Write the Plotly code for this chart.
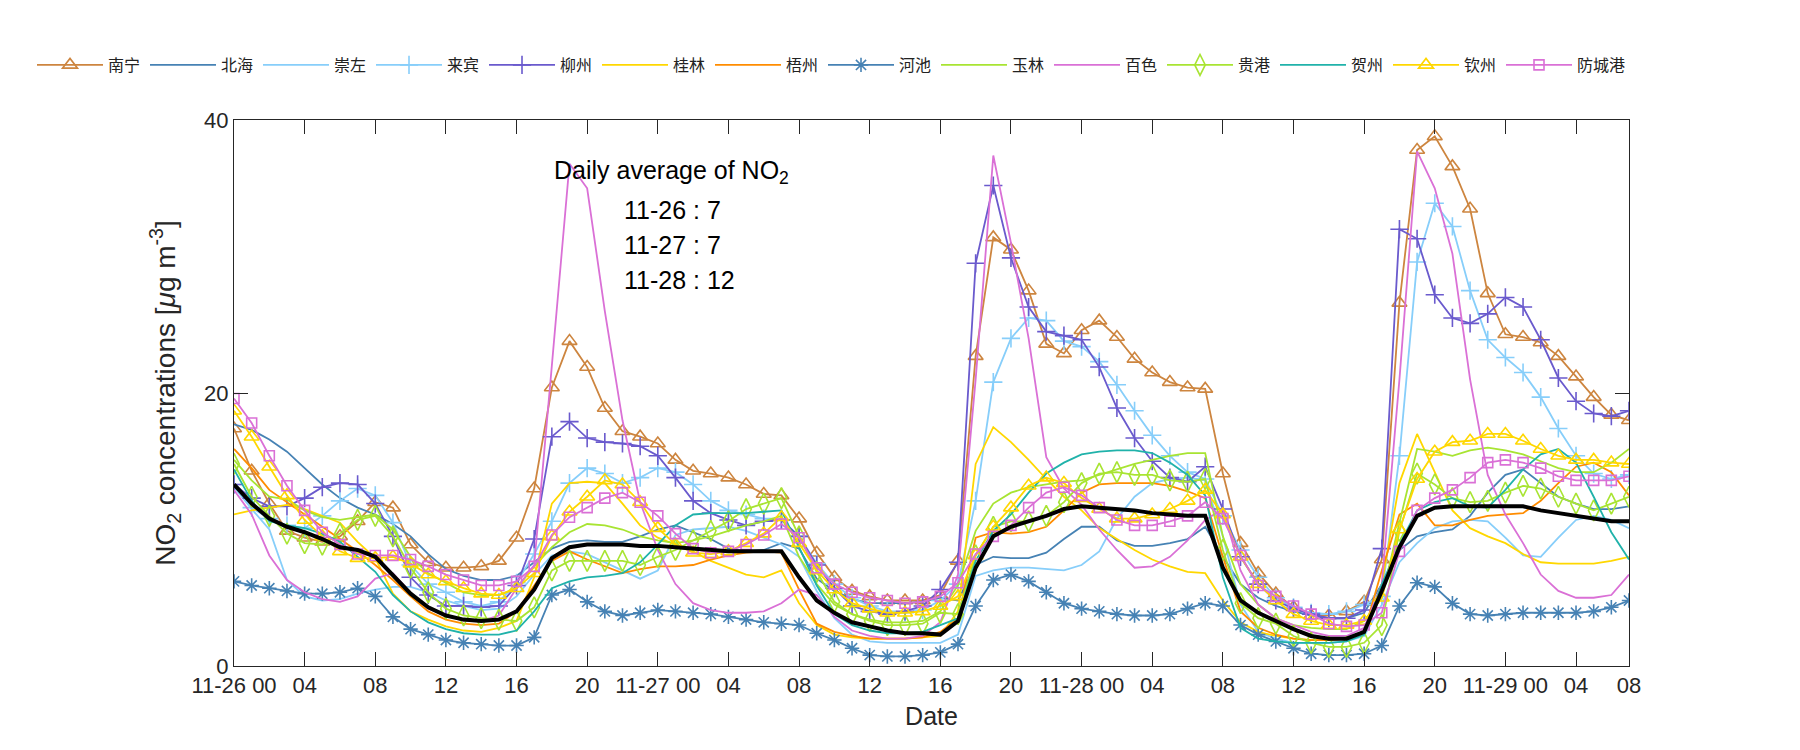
import plotly.graph_objects as go

hours = list(range(80))

tick_vals = [0, 4, 8, 12, 16, 20, 24, 28, 32, 36, 40, 44, 48, 52, 56, 60, 64, 68, 72, 76, 79]
tick_text = ["11-26 00", "04", "08", "12", "16", "20", "11-27 00", "04", "08", "12", "16",
             "20", "11-28 00", "04", "08", "12", "16", "20", "11-29 00", "04", "08"]

nanning = [17.4, 14.3, 11.9, 9.9, 9.4, 9.1, 9.5, 10.6, 12.0, 11.6,
           8.9, 7.6, 7.2, 7.2, 7.3, 7.7, 9.4, 13.0, 20.4, 23.8,
           21.9, 18.9, 17.2, 16.8, 16.3, 15.1, 14.3, 14.1, 13.8, 13.3,
           12.6, 12.5, 10.8, 8.3, 6.5, 5.5, 5.1, 4.8, 4.8, 4.8,
           5.2, 7.7, 22.7, 31.4, 30.5, 27.5, 23.6, 22.9, 24.6, 25.3,
           24.1, 22.5, 21.5, 20.8, 20.4, 20.3, 14.1, 9.0, 6.8, 5.3,
           4.3, 3.7, 3.7, 4.0, 4.7, 7.8, 26.6, 37.8, 38.8, 36.6,
           33.5, 27.3, 24.3, 24.1, 23.7, 22.7, 21.2, 19.7, 18.4, 18.0]

beihai = [17.7, 17.3, 16.6, 15.7, 14.5, 13.3, 12.3, 11.6, 11.1, 10.4,
          9.5, 8.2, 7.1, 6.6, 6.3, 6.3, 6.6, 7.6, 8.6, 9.1,
          9.2, 9.1, 9.1, 9.5, 10.0, 10.3, 9.8, 9.3, 8.6, 8.4,
          8.5, 9.0, 8.6, 6.4, 5.5, 4.9, 4.6, 4.6, 4.6, 4.7,
          5.0, 4.8, 7.4, 8.0, 7.9, 7.9, 8.3, 9.3, 10.2, 10.2,
          9.2, 8.8, 8.8, 9.0, 9.3, 10.2, 8.0, 6.0, 5.0, 4.4,
          4.0, 3.7, 3.5, 3.5, 3.9, 6.0, 8.5, 9.5, 9.8, 10.0,
          11.0, 12.7, 14.0, 14.4, 13.4, 12.4, 11.9, 11.5, 11.5, 11.7]

chongzuo = [13.1, 11.5, 10.0, 6.3, 5.1, 4.8, 4.9, 5.3, 5.6, 5.8,
            5.8, 5.4, 4.8, 4.4, 4.1, 4.2, 5.1, 6.7, 8.1, 8.4,
            8.2, 7.6, 7.0, 6.4, 7.0, 9.6, 10.0, 10.1, 10.2, 9.9,
            9.4, 8.9, 8.0, 5.5, 3.5, 2.3, 1.8, 1.7, 1.7, 1.7,
            1.7, 2.3, 6.6, 7.0, 7.2, 7.2, 7.1, 7.0, 7.4, 8.4,
            10.8, 12.4, 13.4, 13.7, 13.8, 13.6, 9.5, 4.5, 2.5, 2.0,
            1.7, 1.7, 1.7, 1.8, 2.2, 4.5, 7.6, 9.0, 10.1, 10.6,
            10.7, 10.6, 9.4, 8.1, 8.0, 9.4, 10.7, 11.0, 10.7, 10.1]

laibin = [13.3, 11.6, 10.8, 10.3, 10.1, 11.0, 12.1, 13.0, 12.5, 10.5,
          7.4, 6.0, 5.4, 4.7, 4.4, 4.7, 6.1, 8.2, 10.6, 13.4,
          14.5, 14.1, 13.4, 13.8, 14.5, 14.2, 13.3, 12.1, 11.4, 11.1,
          10.8, 10.7, 9.5, 7.5, 6.0, 5.0, 4.4, 4.0, 3.9, 4.1,
          4.8, 6.0, 12.1, 20.8, 24.0, 25.5, 25.3, 23.8, 23.4, 22.3,
          20.6, 18.7, 16.9, 15.4, 14.2, 13.7, 11.0, 8.5, 6.5, 5.0,
          4.3, 3.9, 3.8, 4.0, 4.5, 5.1, 15.4, 29.6, 33.9, 32.2,
          27.5, 23.9, 22.6, 21.5, 19.7, 17.4, 15.4, 14.1, 13.7, 14.0]

liuzhou = [13.3, 12.3, 11.7, 11.7, 12.3, 13.1, 13.4, 13.3, 11.9, 9.5,
           6.5, 5.2, 4.4, 4.4, 4.3, 4.4, 5.9, 9.3, 16.8, 17.9,
           16.7, 16.4, 16.3, 16.1, 15.4, 13.8, 12.1, 11.2, 10.7, 10.3,
           10.6, 10.7, 9.5, 7.4, 5.7, 4.4, 4.0, 3.8, 4.0, 4.4,
           5.6, 7.6, 29.5, 35.2, 29.9, 26.3, 24.5, 24.2, 23.9, 21.9,
           18.9, 16.7, 15.0, 13.8, 13.5, 14.6, 11.5, 8.0, 6.0, 4.8,
           4.2, 3.8, 3.5, 3.5, 4.1, 8.6, 32.0, 31.3, 27.2, 25.5,
           25.1, 25.8, 27.0, 26.3, 23.9, 21.1, 19.4, 18.5, 18.3, 18.7]

guilin = [11.1, 11.4, 11.6, 11.8, 11.5, 11.0, 10.5, 9.1, 7.9, 5.3,
          4.0, 3.4, 2.9, 2.6, 2.5, 2.8, 3.3, 6.5, 11.9, 13.4,
          13.5, 13.4, 11.9, 10.3, 9.4, 8.9, 8.4, 7.7, 7.2, 6.7,
          6.5, 7.0, 4.6, 3.0, 2.3, 2.1, 2.0, 2.0, 2.0, 2.1,
          2.2, 4.0, 14.8, 17.5, 16.4, 15.1, 13.7, 12.4, 11.4, 10.1,
          9.3, 8.5, 7.8, 7.3, 6.9, 6.8, 4.8, 3.2, 2.5, 2.2,
          2.0, 1.9, 1.9, 2.0, 2.5, 6.0, 13.4, 17.0, 14.2, 11.4,
          10.1, 9.5, 9.0, 8.2, 7.6, 7.5, 7.5, 7.5, 7.7, 8.0]

wuzhou = [15.9, 14.5, 12.9, 12.0, 11.1, 10.2, 9.3, 8.4, 7.4, 6.3,
          5.1, 4.0, 3.4, 3.1, 3.0, 3.1, 4.0, 5.9, 7.7, 8.4,
          7.8, 7.3, 6.8, 7.1, 7.3, 7.3, 7.4, 7.8, 8.1, 8.3,
          8.4, 8.3, 5.6, 3.1, 2.5, 2.2, 2.0, 2.0, 2.0, 2.1,
          2.5, 3.5, 9.4, 9.8, 9.7, 9.8, 10.2, 11.4, 12.7, 13.3,
          13.4, 13.4, 13.4, 13.2, 12.8, 12.3, 8.0, 4.0, 2.8, 2.3,
          2.0, 1.9, 1.9, 2.0, 2.5, 7.0, 11.1, 11.9, 10.3, 10.3,
          10.7, 11.0, 11.1, 11.2, 12.1, 13.4, 14.6, 14.9, 14.2, 12.5]

hechi = [6.2, 5.9, 5.7, 5.5, 5.3, 5.3, 5.4, 5.7, 5.1, 3.6,
         2.7, 2.3, 1.9, 1.7, 1.6, 1.5, 1.5, 2.1, 5.2, 5.6,
         4.7, 4.0, 3.7, 3.9, 4.1, 4.0, 3.9, 3.8, 3.6, 3.4,
         3.2, 3.1, 3.0, 2.4, 1.9, 1.3, 0.8, 0.7, 0.7, 0.8,
         1.0, 1.6, 4.4, 6.3, 6.7, 6.2, 5.4, 4.6, 4.2, 4.0,
         3.8, 3.7, 3.7, 3.8, 4.2, 4.6, 4.4, 3.0, 2.3, 1.8,
         1.3, 0.9, 0.8, 0.8, 0.9, 1.5, 4.4, 6.1, 5.8, 4.6,
         3.8, 3.7, 3.8, 3.9, 3.9, 3.9, 3.9, 4.0, 4.3, 4.8]

yulin = [15.1, 13.6, 12.4, 12.2, 11.4, 10.9, 10.7, 10.9, 11.1, 10.0,
         8.0, 6.8, 6.1, 5.4, 5.2, 5.2, 5.7, 7.3, 8.7, 9.8,
         10.4, 10.3, 10.0, 9.5, 9.2, 9.0, 9.2, 9.5, 9.9, 10.3,
         10.6, 11.0, 8.0, 6.0, 4.5, 3.8, 3.4, 3.2, 3.2, 3.3,
         4.0, 5.9, 9.9, 11.9, 12.7, 13.1, 13.3, 13.5, 13.6, 14.0,
         14.4, 14.8, 15.1, 15.4, 15.6, 15.6, 9.5, 6.0, 4.5, 3.5,
         3.0, 2.8, 2.7, 2.7, 3.3, 5.0, 10.5, 15.9, 15.7, 15.4,
         15.8, 16.0, 15.8, 15.5, 15.0, 14.5, 14.2, 14.2, 14.9, 15.9]

baise = [12.9, 11.1, 8.1, 6.3, 5.4, 4.9, 4.7, 5.1, 6.4, 6.8,
         5.4, 4.2, 3.7, 3.3, 3.3, 3.7, 5.7, 7.4, 22.0, 36.8,
         35.0, 26.0, 18.0, 12.0, 8.5, 6.0, 4.6, 4.1, 3.9, 3.9,
         4.0, 4.6, 5.6, 5.2, 3.6, 2.6, 2.2, 2.0, 2.0, 2.2,
         3.2, 6.7, 21.0, 37.4, 31.0, 24.0, 15.3, 13.0, 11.8, 10.0,
         8.5, 7.2, 7.3, 8.0, 9.2, 10.7, 11.5, 7.0, 4.5, 3.5,
         3.0, 2.5, 2.2, 2.2, 2.8, 6.0, 21.0, 37.7, 35.0, 30.2,
         21.0, 14.0, 11.1, 9.0, 6.7, 5.5, 5.0, 5.0, 5.2, 6.7]

guigang = [14.8, 12.4, 11.0, 9.7, 9.0, 8.9, 9.7, 10.7, 11.0, 9.5,
           7.2, 5.4, 4.2, 3.7, 3.5, 3.4, 3.3, 4.3, 7.0, 7.7,
           7.7, 7.7, 7.7, 7.4, 8.0, 8.5, 9.2, 9.9, 10.6, 11.5,
           11.9, 12.3, 9.5, 6.9, 4.7, 3.8, 3.3, 3.0, 3.0, 3.1,
           3.9, 3.8, 8.1, 10.2, 10.6, 10.6, 11.0, 12.0, 13.4, 14.1,
           14.2, 14.0, 14.0, 13.6, 13.5, 13.7, 8.5, 4.6, 3.5, 3.1,
           2.2, 1.7, 1.4, 1.4, 1.7, 3.0, 9.9, 14.1, 13.3, 12.3,
           12.0, 12.1, 12.7, 13.2, 13.0, 12.4, 11.9, 11.4, 11.9, 12.4]

hezhou = [14.4, 12.1, 10.6, 10.3, 10.1, 9.7, 9.1, 8.0, 6.9, 5.2,
          4.0, 3.2, 2.7, 2.4, 2.3, 2.3, 2.6, 4.0, 5.7, 6.2,
          6.5, 6.6, 6.8, 7.6, 8.9, 10.3, 11.1, 11.2, 11.2, 11.2,
          11.3, 11.4, 8.7, 5.9, 3.8, 3.0, 2.6, 2.4, 2.4, 2.5,
          3.0, 3.5, 7.7, 9.9, 11.1, 12.7, 14.1, 14.9, 15.5, 15.7,
          15.8, 15.8, 15.6, 14.9, 14.0, 12.5, 6.5, 2.8, 2.0, 1.8,
          1.7, 1.7, 1.7, 1.8, 2.3, 6.0, 8.9, 11.4, 12.0, 12.3,
          11.7, 11.6, 12.9, 14.4, 15.5, 15.9, 14.9, 12.4, 9.8, 7.8]

qinzhou = [18.7, 16.8, 14.6, 12.5, 10.7, 9.5, 8.4, 7.9, 7.9, 8.0,
           7.5, 6.7, 6.2, 5.7, 5.3, 5.2, 5.7, 6.8, 9.5, 11.3,
           12.4, 13.6, 13.3, 12.0, 10.1, 8.9, 8.3, 8.2, 8.4, 9.0,
           9.7, 10.9, 9.0, 7.0, 5.6, 4.6, 4.2, 3.9, 3.9, 4.0,
           4.4, 5.1, 8.1, 10.2, 11.6, 13.2, 13.8, 13.4, 12.3, 11.5,
           10.8, 10.8, 11.1, 11.5, 12.1, 12.9, 11.1, 8.0, 6.0, 4.8,
           3.8, 3.3, 3.0, 3.0, 3.3, 5.0, 10.0, 13.7, 15.7, 16.4,
           16.5, 17.0, 17.0, 16.5, 15.9, 15.4, 15.1, 15.1, 14.9, 14.8]

fangchenggang = [19.6, 17.8, 15.4, 13.2, 11.4, 9.8, 8.9, 8.2, 8.1, 8.1,
                 7.8, 7.3, 6.7, 6.3, 5.9, 5.9, 6.2, 7.3, 9.6, 10.9,
                 11.6, 12.3, 12.7, 12.0, 11.0, 9.7, 8.6, 8.3, 8.4, 8.9,
                 9.6, 10.4, 9.4, 7.2, 6.0, 5.4, 5.0, 4.8, 4.6, 4.7,
                 5.1, 6.1, 8.2, 9.5, 10.3, 11.6, 12.7, 13.1, 12.5, 11.6,
                 10.7, 10.3, 10.3, 10.6, 11.0, 12.0, 10.8, 8.1, 5.9, 5.1,
                 4.4, 3.8, 3.1, 2.9, 3.0, 3.9, 8.4, 11.4, 12.3, 12.9,
                 13.8, 14.9, 15.1, 14.9, 14.5, 13.9, 13.6, 13.6, 13.6, 13.9]

average = [13.3, 11.9, 10.8, 10.2, 9.8, 9.3, 8.7, 8.5, 8.0, 6.7,
           5.3, 4.3, 3.7, 3.4, 3.3, 3.4, 4.0, 5.6, 7.9, 8.7,
           8.9, 8.9, 8.9, 8.8, 8.8, 8.7, 8.6, 8.5, 8.4, 8.4,
           8.4, 8.4, 6.5, 4.8, 3.9, 3.2, 2.9, 2.6, 2.4, 2.4,
           2.3, 3.3, 7.2, 9.5, 10.2, 10.6, 11.0, 11.5, 11.7, 11.6,
           11.5, 11.4, 11.2, 11.1, 11.0, 11.0, 7.2, 4.8, 3.9, 3.3,
           2.7, 2.2, 2.0, 2.0, 2.5, 5.5, 8.7, 11.0, 11.6, 11.7,
           11.7, 11.7, 11.7, 11.7, 11.4, 11.2, 11.0, 10.8, 10.6, 10.6]

daily_avg_dates = ["11-26", "11-27", "11-28"]
daily_avg_values = [7, 7, 12]

PERU = "#CD853F"
STEEL = "#4682B4"
SKY = "#87CEFA"
SLATE = "#6A5ACD"
GOLD = "#FFD700"
ORANGE = "#FF8C00"
YG = "#A8E432"
ORCHID = "#DA70D6"
SEA = "#20B2AA"

series = [
    ("南宁", nanning, PERU, "triangle-up-open", 13),
    ("北海", beihai, STEEL, None, 0),
    ("崇左", chongzuo, SKY, None, 0),
    ("来宾", laibin, SKY, "cross-thin-open", 13),
    ("柳州", liuzhou, SLATE, "cross-thin-open", 13),
    ("桂林", guilin, GOLD, None, 0),
    ("梧州", wuzhou, ORANGE, None, 0),
    ("河池", hechi, STEEL, "asterisk-open", 12),
    ("玉林", yulin, YG, None, 0),
    ("百色", baise, ORCHID, None, 0),
    ("贵港", guigang, YG, "diamond-tall-open", 15),
    ("贺州", hezhou, SEA, None, 0),
    ("钦州", qinzhou, GOLD, "triangle-up-open", 13),
    ("防城港", fangchenggang, ORCHID, "square-open", 10),
]

fig = go.Figure()
for name, vals, color, sym, size in series:
    extra = {"legendwidth": 60} if len(name) > 2 else {}
    if sym:
        fig.add_trace(go.Scatter(
            x=hours, y=vals, name=name, mode="lines+markers",
            line=dict(color=color, width=1.8),
            marker=dict(symbol=sym, size=size, color=color,
                        line=dict(color=color, width=1.6)),
            **extra,
        ))
    else:
        fig.add_trace(go.Scatter(
            x=hours, y=vals, name=name, mode="lines",
            line=dict(color=color, width=1.8),
            **extra,
        ))

fig.add_trace(go.Scatter(
    x=hours, y=average, name="平均", mode="lines",
    line=dict(color="black", width=4), showlegend=False,
))

FONT = "Liberation Sans, Arial, sans-serif"
AXC = "#262626"

fig.add_annotation(
    xref="paper", yref="paper", x=0.228, y=0.905,
    text="Daily average of NO<sub>2</sub>", showarrow=False,
    xanchor="left", yanchor="middle",
    font=dict(family=FONT, size=25, color="black"),
)
for i, (d, v) in enumerate(zip(daily_avg_dates, daily_avg_values)):
    fig.add_annotation(
        xref="paper", yref="paper", x=0.278, y=0.835 - i * 0.064,
        text=f"{d} : {v}", showarrow=False,
        xanchor="left", yanchor="middle",
        font=dict(family=FONT, size=25, color="black"),
    )

# the page body adds an 8 px offset; margins compensate for it
fig.update_layout(
    width=1800, height=750,
    paper_bgcolor="white", plot_bgcolor="white",
    margin=dict(l=226, r=179, t=112, b=92, autoexpand=False),
    font=dict(family=FONT, size=22, color=AXC),
    showlegend=True,
    legend=dict(
        orientation="h", xref="paper", yref="paper",
        x=-0.1448, y=1.1007, xanchor="left", yanchor="middle",
        font=dict(family="Noto Sans CJK SC", size=16, color="#222222"),
        itemwidth=66, entrywidth=32, entrywidthmode="pixels",
        bgcolor="rgba(0,0,0,0)", tracegroupgap=0,
        itemclick=False,
    ),
    xaxis=dict(
        range=[0, 79], tickmode="array", tickvals=tick_vals, ticktext=tick_text,
        showgrid=False, zeroline=False, showline=True, linecolor=AXC, linewidth=1,
        mirror="ticks", ticks="inside", ticklen=14, tickcolor=AXC,
        tickfont=dict(family=FONT, size=22, color=AXC),
        title=dict(text="Date", font=dict(family=FONT, size=25, color=AXC), standoff=10),
    ),
    yaxis=dict(
        range=[0, 40], tickmode="array", tickvals=[0, 20, 40],
        showgrid=False, zeroline=False, showline=True, linecolor=AXC, linewidth=1,
        mirror="ticks", ticks="inside", ticklen=14, tickcolor=AXC,
        tickfont=dict(family=FONT, size=22, color=AXC),
        title=dict(text="NO<sub>2</sub> concentrations [<i>μ</i>g m<sup>-3</sup>]",
                   font=dict(family=FONT, size=28, color=AXC), standoff=20),
    ),
)

fig.write_html("out.html")
